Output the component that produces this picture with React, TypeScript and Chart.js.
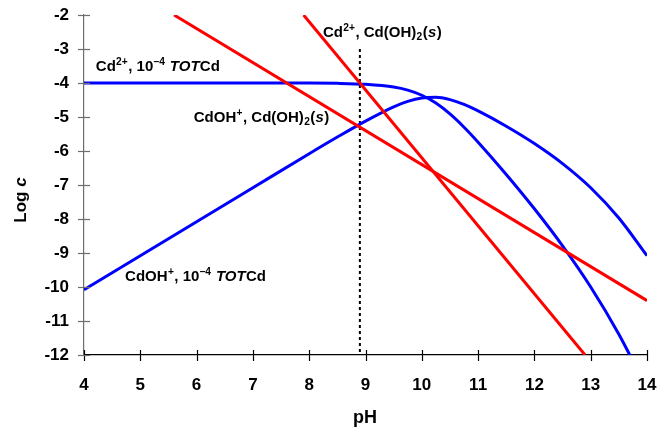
import React, { useEffect, useRef } from "react";
import { Chart, registerables } from "chart.js";

Chart.register(...registerables);

// ---- data ----
const pHGrid = [4, 5, 6, 7, 8, 8.5, 9, 9.5, 9.75, 10, 10.25, 10.5, 10.75, 11, 11.5, 12, 12.5, 13, 13.5, 14];
const cd2TotLog = [-4.0, -4.0, -4.0, -4.0, -4.0, -4.01, -4.04, -4.12, -4.21, -4.36, -4.59, -4.91, -5.3, -5.74, -6.69, -7.7, -8.79, -10.0, -11.39, -13.0];
const cdohTotLog = [-10.08, -9.08, -8.08, -7.08, -6.08, -5.59, -5.12, -4.7, -4.54, -4.44, -4.42, -4.49, -4.63, -4.82, -5.27, -5.78, -6.37, -7.08, -7.97, -9.08];

const cd2SolidPH = [7.9, 12.9];
const cd2SolidLog = [-2, -12];
const cdohSolidPH = [5.6, 14];
const cdohSolidLog = [-2, -10.4];

const markerPH = [8.9, 8.9];
const markerLog = [-3, -12];

const xTickValues = [4, 5, 6, 7, 8, 9, 10, 11, 12, 13, 14];
const yTickValues = [-12, -11, -10, -9, -8, -7, -6, -5, -4, -3, -2];

type Seg = [string, "n" | "i" | "sup" | "sub"];
const labelCd2Tot: Seg[] = [["Cd", "n"], ["2+", "sup"], [", 10", "n"], ["\u20134", "sup"], [" ", "n"], ["TOT", "i"], ["Cd", "n"]];
const labelCdohSolid: Seg[] = [["CdOH", "n"], ["+", "sup"], [", Cd(OH)", "n"], ["2", "sub"], ["(", "n"], ["s", "i"], [")", "n"]];
const labelCd2Solid: Seg[] = [["Cd", "n"], ["2+", "sup"], [", Cd(OH)", "n"], ["2", "sub"], ["(", "n"], ["s", "i"], [")", "n"]];
const labelCdohTot: Seg[] = [["CdOH", "n"], ["+", "sup"], [", 10", "n"], ["\u20134", "sup"], [" ", "n"], ["TOT", "i"], ["Cd", "n"]];

const FAMILY = '"Liberation Sans", Arial, Helvetica, sans-serif';

const labels: { segs: Seg[]; x: number; y: number }[] = [
  { segs: labelCd2Tot, x: 4.21, y: -3.65 },
  { segs: labelCdohSolid, x: 5.95, y: -5.15 },
  { segs: labelCd2Solid, x: 8.245, y: -2.65 },
  { segs: labelCdohTot, x: 4.73, y: -9.82 },
];

function drawRich(ctx: CanvasRenderingContext2D, x: number, y: number, segs: Seg[], size: number) {
  let cx = x;
  ctx.textBaseline = "alphabetic";
  ctx.textAlign = "left";
  ctx.fillStyle = "#000";
  for (const [t, k] of segs) {
    let fs = size;
    let dy = 0;
    let style = "";
    if (k === "i") style = "italic ";
    if (k === "sup") {
      fs = size * 0.68;
      dy = -size * 0.38;
    }
    if (k === "sub") {
      fs = size * 0.68;
      dy = size * 0.2;
    }
    ctx.font = `${style}bold ${fs}px ${FAMILY}`;
    ctx.fillText(t, cx, y + dy);
    cx += ctx.measureText(t).width + (k === "sup" || k === "sub" ? 0.5 : 0.3);
  }
}

const overlayPlugin = {
  id: "overlay",
  afterDraw(chart: any) {
    const ctx = chart.ctx as CanvasRenderingContext2D;
    const xs = chart.scales.x;
    const ys = chart.scales.y;
    const area = chart.chartArea;
    ctx.save();
    // crossing tick marks
    ctx.lineWidth = 1.2;
    ctx.strokeStyle = "#000";
    for (const v of xTickValues) {
      const px = Math.round(xs.getPixelForValue(v)) + 0.5;
      ctx.beginPath();
      ctx.moveTo(px, area.bottom - 5);
      ctx.lineTo(px, area.bottom + 6);
      ctx.stroke();
    }
    ctx.strokeStyle = "#6e6e6e";
    for (const v of yTickValues) {
      const py = Math.round(ys.getPixelForValue(v)) + 0.5;
      ctx.beginPath();
      ctx.moveTo(area.left - 6, py);
      ctx.lineTo(area.left + 6, py);
      ctx.stroke();
    }
    // annotations
    for (const l of labels) {
      drawRich(ctx, xs.getPixelForValue(l.x), ys.getPixelForValue(l.y), l.segs, 15);
    }
    // axis titles
    ctx.fillStyle = "#000";
    ctx.textBaseline = "alphabetic";
    ctx.textAlign = "center";
    ctx.font = `bold 18px ${FAMILY}`;
    ctx.fillText("pH", 365, 423);

    ctx.save();
    ctx.translate(21, 200);
    ctx.rotate(-Math.PI / 2);
    ctx.textBaseline = "middle";
    ctx.font = `bold 17px ${FAMILY}`;
    const w1 = ctx.measureText("Log ").width;
    ctx.font = `italic bold 17px ${FAMILY}`;
    const w2 = ctx.measureText("c").width;
    ctx.textAlign = "left";
    ctx.font = `bold 17px ${FAMILY}`;
    ctx.fillText("Log ", -(w1 + w2) / 2, 0);
    ctx.font = `italic bold 17px ${FAMILY}`;
    ctx.fillText("c", -(w1 + w2) / 2 + w1, 0);
    ctx.restore();
    ctx.restore();
  },
};

function toPoints(xs: number[], ys: number[]) {
  return xs.map((x, i) => ({ x, y: ys[i] }));
}

export default function App() {
  const ref = useRef<HTMLCanvasElement | null>(null);
  useEffect(() => {
    if (!ref.current) return;
    const chart = new Chart(ref.current, {
      type: "line",
      data: {
        datasets: [
          {
            data: toPoints(cd2SolidPH, cd2SolidLog),
            borderColor: "#ff0000",
            borderWidth: 3,
            pointRadius: 0,
          },
          {
            data: toPoints(cdohSolidPH, cdohSolidLog),
            borderColor: "#ff0000",
            borderWidth: 3,
            pointRadius: 0,
          },
          {
            data: toPoints(pHGrid, cd2TotLog),
            borderColor: "#0000ff",
            borderWidth: 3,
            pointRadius: 0,
            cubicInterpolationMode: "monotone",
          },
          {
            data: toPoints(pHGrid, cdohTotLog),
            borderColor: "#0000ff",
            borderWidth: 3,
            pointRadius: 0,
            cubicInterpolationMode: "monotone",
          },
          {
            data: toPoints(markerPH, markerLog),
            borderColor: "#000000",
            borderWidth: 2,
            borderDash: [3, 3],
            pointRadius: 0,
          },
        ],
      },
      options: {
        animation: false,
        responsive: false,
        devicePixelRatio: 1,
        layout: { padding: { top: 15, right: 14, left: 0, bottom: 0 } },
        plugins: { legend: { display: false }, tooltip: { enabled: false } },
        scales: {
          x: {
            type: "linear",
            min: 4,
            max: 14,
            afterFit: (s: any) => {
              s.height = 73;
              s.paddingLeft = 0;
              s.paddingRight = 0;
            },
            afterBuildTicks: (s: any) => {
              s.ticks = xTickValues.map((v) => ({ value: v }));
            },
            ticks: {
              color: "#000",
              font: { family: FAMILY, size: 17, weight: "bold" },
              padding: 20,
              maxRotation: 0,
              callback: (v: any) => String(v),
            },
            grid: { display: true, drawOnChartArea: false, drawTicks: false },
            border: { display: true, color: "#000", width: 1.2 },
          },
          y: {
            type: "linear",
            min: -12,
            max: -2,
            afterFit: (s: any) => {
              s.width = 84;
              s.paddingTop = 0;
              s.paddingBottom = 0;
            },
            afterBuildTicks: (s: any) => {
              s.ticks = yTickValues.map((v) => ({ value: v }));
            },
            ticks: {
              color: "#000",
              font: { family: FAMILY, size: 17, weight: "bold" },
              padding: 15,
              callback: (v: any) => String(v),
            },
            grid: { display: true, drawOnChartArea: false, drawTicks: false },
            border: { display: true, color: "#6e6e6e", width: 1.2 },
          },
        },
      },
      plugins: [overlayPlugin],
    } as any);
    return () => chart.destroy();
  }, []);
  return (
    <div style={{ position: "fixed", left: 0, top: 0, width: 661, height: 428, background: "#fff" }}>
      <canvas ref={ref} width={661} height={428} style={{ display: "block" }} />
    </div>
  );
}
